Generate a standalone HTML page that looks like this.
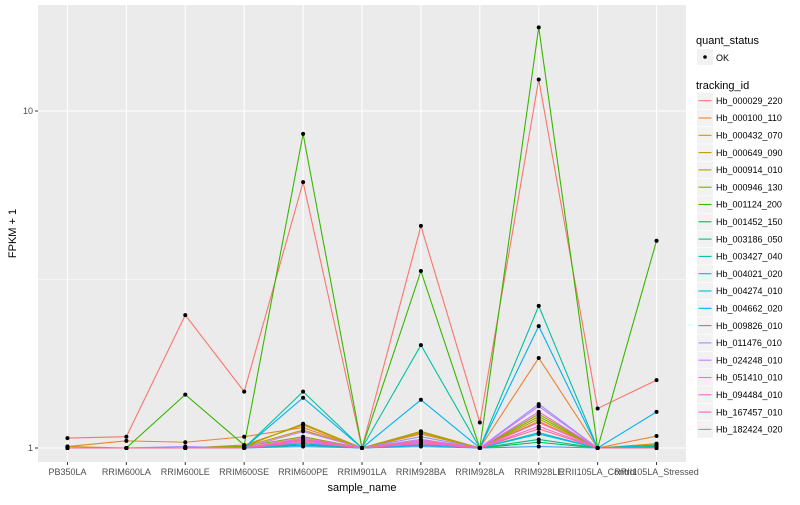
<!DOCTYPE html>
<html><head><meta charset="utf-8"><style>
body{margin:0;background:#fff;font-family:"Liberation Sans",sans-serif}
svg text{font-family:"Liberation Sans",sans-serif}
</style></head><body>
<svg id="c" width="800" height="500" xmlns="http://www.w3.org/2000/svg"></svg>
<script>
const categories=["PB350LA","RRIM600LA","RRIM600LE","RRIM600SE","RRIM600PE","RRIM901LA","RRIM928BA","RRIM928LA","RRIM928LE","RRII105LA_Control","RRII105LA_Stressed"];
const seriesNames=["Hb_000029_220","Hb_000100_110","Hb_000432_070","Hb_000649_090","Hb_000914_010","Hb_000946_130","Hb_001124_200","Hb_001452_150","Hb_003186_050","Hb_003427_040","Hb_004021_020","Hb_004274_010","Hb_004662_020","Hb_009826_010","Hb_011476_010","Hb_024248_010","Hb_051410_010","Hb_094484_010","Hb_167457_010","Hb_182424_020"];
const colors=["#F8766D","#EA8331","#D89000","#C09B00","#A3A500","#7CAE00","#39B600","#00BB4E","#00BF7D","#00C1A3","#00BFC4","#00BAE0","#00B0F6","#35A2FF","#9590FF","#C77CFF","#E76BF3","#FA62DB","#FF62BC","#FF6C91"];
const s0=[1.07,1.08,2.48,1.47,6.15,1,4.56,1.19,12.4,1.31,1.59];
const s1=[1.01,1.05,1.04,1.08,1.15,1,1.1,1,1.85,1,1.085];
const s2=[1.01,1,1,1.02,1.17,1,1.12,1,1.2,1,1.03];
const s3=[1.0,1,1,1.01,1.13,1,1.11,1,1.22,1,1.02];
const s4=[1.0,1,1,1.01,1.18,1,1.12,1,1.26,1,1.01];
const s5=[1.0,1,1,1.01,1.08,1,1.06,1,1.24,1,1.01];
const s6=[1,1,1.44,1.02,8.55,1,3.35,1,17.7,1,4.12];
const s7=[1,1,1,1,1.03,1,1.02,1,1.04,1,1.01];
const s8=[1,1,1,1,1.02,1,1.03,1,1.06,1,1];
const s9=[1,1,1,1,1.47,1,2.02,1,2.64,1,1.01];
const s10=[1,1,1,1,1.05,1,1.04,1,1.1,1,1];
const s11=[1,1,1,1,1.03,1,1.02,1,1.11,1,1.02];
const s12=[1,1,1,1,1.41,1,1.39,1,2.3,1,1.28];
const s13=[1,1,1,1,1.01,1,1.01,1,1.01,1,1];
const s14=[1,1,1.01,1,1.06,1,1.08,1,1.35,1,1];
const s15=[1,1,1,1,1.12,1,1.06,1,1.33,1,1];
const s16=[1,1,1,1,1.07,1,1.05,1,1.28,1,1];
const s17=[1,1,1,1,1.05,1,1.04,1,1.19,1,1];
const s18=[1,1,1,1,1.04,1,1.03,1,1.16,1,1];
const s19=[1,1,1,1,1.06,1,1.05,1,1.14,1,1];
const seriesValues=[s0,s1,s2,s3,s4,s5,s6,s7,s8,s9,s10,s11,s12,s13,s14,s15,s16,s17,s18,s19];
const yTicks=[1,10];
const yMinor=[Math.sqrt(10)];

const NS="http://www.w3.org/2000/svg";
const svg=document.getElementById('c');
const L=38,R=686,T=5,B=462;
const step=(R-L)/categories.length;
function x(i){return L+step*(i+0.5);}
function y(v){return 448-337*Math.log10(v);}
function mk(tag,attrs,parent){const e=document.createElementNS(NS,tag);for(const k in attrs)e.setAttribute(k,attrs[k]);(parent||svg).appendChild(e);return e;}

const bg=mk('rect',{x:L,y:T,width:R-L,height:B-T,fill:'#EBEBEB'});


yMinor.forEach(v=>{const l=mk('line',{x1:L,x2:R,y1:y(v),y2:y(v),stroke:'#fff','stroke-width':0.5});

});
yTicks.forEach(v=>{const l=mk('line',{x1:L,x2:R,y1:y(v),y2:y(v),stroke:'#fff','stroke-width':1.1});


mk('line',{x1:L-3,x2:L,y1:y(v),y2:y(v),stroke:'#333','stroke-width':1});
const t=mk('text',{x:L-5,y:y(v)+3,'text-anchor':'end','font-size':9,fill:'#4D4D4D'});t.textContent=v;

});
categories.forEach((c,i)=>{const l=mk('line',{x1:x(i),x2:x(i),y1:T,y2:B,stroke:'#fff','stroke-width':1.1});


mk('line',{x1:x(i),x2:x(i),y1:B,y2:B+3,stroke:'#333','stroke-width':1});
const t=mk('text',{x:x(i),y:B+13,'text-anchor':'middle','font-size':9,fill:'#4D4D4D'});t.textContent=c;

});

seriesValues.forEach((vals,si)=>{
 const p=mk('polyline',{points:vals.map((v,i)=>x(i)+','+y(v)).join(' '),fill:'none',stroke:colors[si],'stroke-width':1.1});
 
 
});
seriesValues.forEach((vals,si)=>{vals.forEach((v,i)=>{
 const c=mk('circle',{cx:x(i),cy:y(v),r:2,fill:'#000'});
 
 
});});

let t=mk('text',{x:L+(R-L)/2,y:491,'text-anchor':'middle','font-size':11,fill:'#000'});t.textContent='sample_name';


t=mk('text',{x:0,y:0,'text-anchor':'middle','font-size':11,fill:'#000',transform:'translate(16,'+(T+(B-T)/2)+') rotate(-90)'});t.textContent='FPKM + 1';



// legend
t=mk('text',{x:696,y:44,'font-size':11,fill:'#000'});t.textContent='quant_status';


mk('rect',{x:697,y:49,width:16,height:16,fill:'#F2F2F2'});
mk('circle',{cx:705,cy:57,r:1.8,fill:'#000'});
t=mk('text',{x:716,y:61,'font-size':9,fill:'#000'});t.textContent='OK';


t=mk('text',{x:696,y:89,'font-size':11,fill:'#000'});t.textContent='tracking_id';


seriesNames.forEach((n,i)=>{
 const yy=100.7+i*17.3;
 const g=mk('g',{});
 
 
 mk('rect',{x:697,y:yy-8.3,width:16,height:16.6,fill:'#F2F2F2'},g);
 mk('line',{x1:698.5,x2:711.5,y1:yy,y2:yy,stroke:colors[i],'stroke-width':1.1},g);
 const tt=mk('text',{x:716,y:yy+3.2,'font-size':9,fill:'#000'},g);tt.textContent=n;
});
</script>
</body></html>
